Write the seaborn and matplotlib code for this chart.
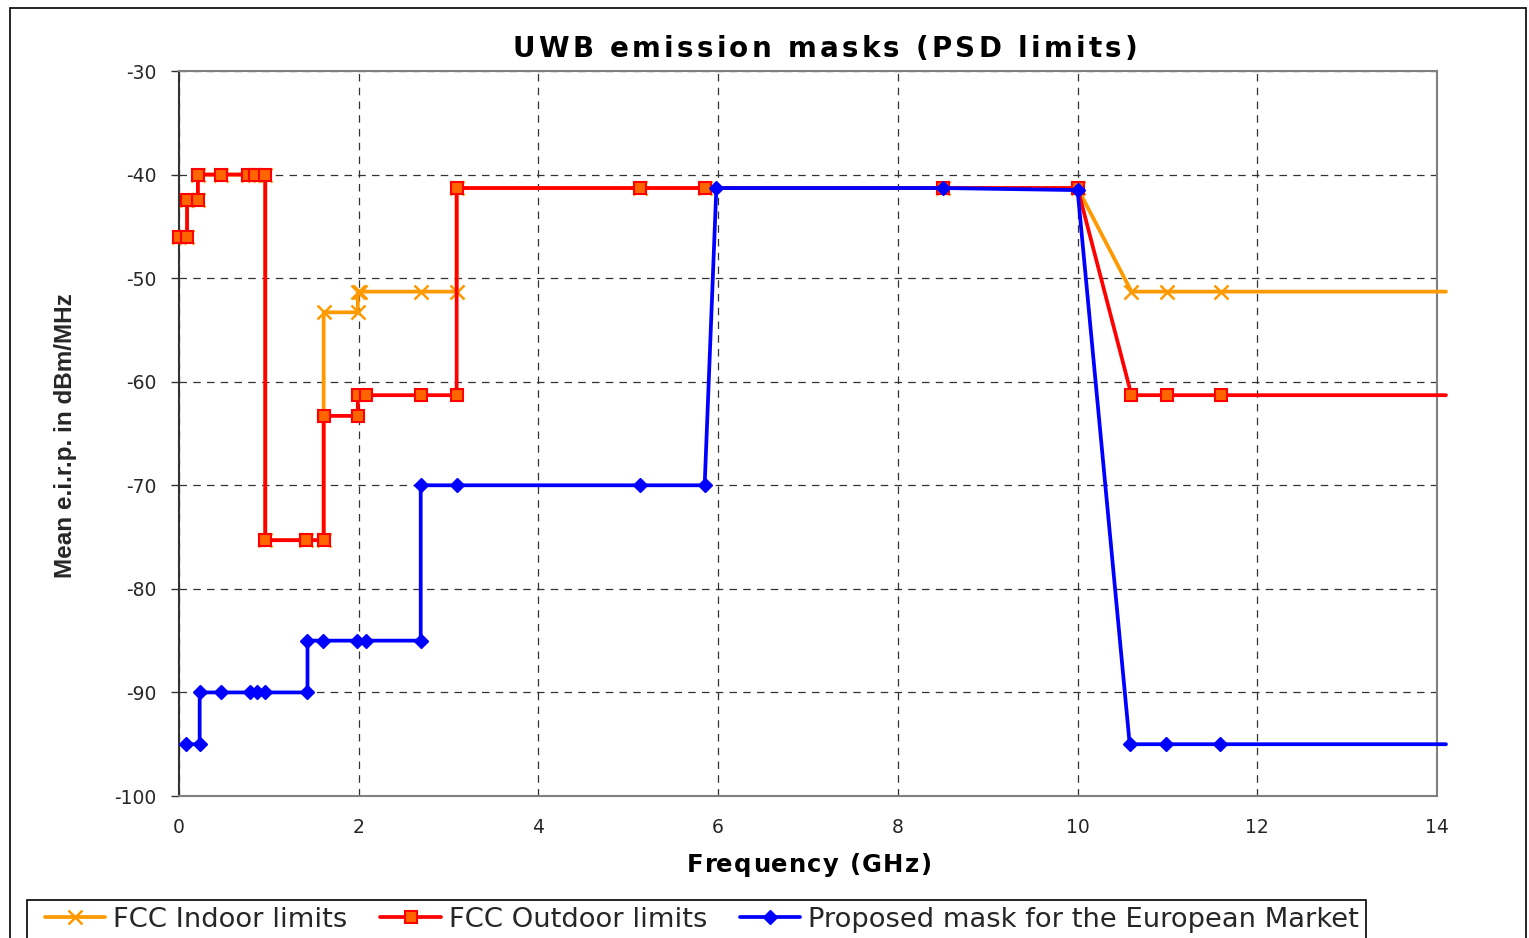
import matplotlib
matplotlib.use("Agg")
import matplotlib.pyplot as plt
from matplotlib.lines import Line2D
from matplotlib.patches import Rectangle
from matplotlib.font_manager import FontProperties
import seaborn as sns
import pandas as pd

# --- data (frequency in GHz, PSD limit in dBm/MHz) ---
indoor_f = [0.0, 0.09, 0.09, 0.21, 0.21, 0.47, 0.77, 0.85, 0.96, 0.96, 1.41, 1.61, 1.61, 1.99, 1.99,
            2.01, 2.69, 3.09, 3.09, 5.13, 5.85, 8.5, 10.0, 10.6, 11.0, 11.6, 14.1]
indoor_v = [-46.0, -46.0, -42.5, -42.5, -40.0, -40.0, -40.0, -40.0, -40.0, -75.3, -75.3, -75.3, -53.3, -53.3, -51.3,
            -51.3, -51.3, -51.3, -41.3, -41.3, -41.3, -41.3, -41.3, -51.3, -51.3, -51.3, -51.3]

outdoor_f = [0.0, 0.09, 0.09, 0.21, 0.21, 0.47, 0.77, 0.85, 0.96, 0.96, 1.41, 1.61, 1.61, 1.99, 1.99,
             2.08, 2.69, 3.09, 3.09, 5.13, 5.85, 8.5, 10.0, 10.6, 11.0, 11.6, 14.1]
outdoor_v = [-46.0, -46.0, -42.5, -42.5, -40.0, -40.0, -40.0, -40.0, -40.0, -75.3, -75.3, -75.3, -63.3, -63.3, -61.3,
             -61.3, -61.3, -61.3, -41.3, -41.3, -41.3, -41.3, -41.3, -61.3, -61.3, -61.3, -61.3]

euro_f = [0.08, 0.23, 0.23, 0.47, 0.79, 0.87, 0.96, 1.43, 1.43, 1.60, 1.98, 2.08, 2.69, 2.69, 3.09,
          5.13, 5.85, 5.98, 8.5, 10.0, 10.58, 10.98, 11.59, 14.1]
euro_v = [-95.0, -95.0, -90.0, -90.0, -90.0, -90.0, -90.0, -90.0, -85.0, -85.0, -85.0, -85.0, -85.0, -70.0, -70.0,
          -70.0, -70.0, -41.3, -41.3, -41.5, -95.0, -95.0, -95.0, -95.0]

series_names = ["FCC Indoor limits", "FCC Outdoor limits", "Proposed mask for the European Market"]
x_ticks = [0, 2, 4, 6, 8, 10, 12, 14]
y_ticks = [-100, -90, -80, -70, -60, -50, -40, -30]

sns.set_theme(style="white")
plt.rcParams["font.family"] = ["DejaVu Sans"]

W, H = 1529, 938
fig = plt.figure(figsize=(W / 100, H / 100), dpi=100)
ax = fig.add_axes([179 / W, 1 - 796 / H, (1437 - 179) / W, (796 - 71) / H])

styles = [
    dict(color="#FF9900", marker="x", mfc="#FF9900", mec="#FF9900", ms=9.5, mew=1.8),
    dict(color="#FF0000", marker="s", mfc="#FF6600", mec="#FF0000", ms=8.5, mew=1.5),
    dict(color="#0000FF", marker="D", mfc="#0000FF", mec="#0000FF", ms=7.5, mew=1.0),
]
data = [(indoor_f, indoor_v), (outdoor_f, outdoor_v), (euro_f, euro_v)]

for (f, v), name, st in zip(data, series_names, styles):
    df = pd.DataFrame({"f": f, "v": v})
    # the trailing point only carries the line past the last marker
    sns.lineplot(data=df, x="f", y="v", sort=False, estimator=None, ax=ax,
                 color=st["color"], lw=2.7, clip_on=False, legend=False, zorder=3)
    ax.plot(df["f"][:-1], df["v"][:-1], ls="none", marker=st["marker"], mfc=st["mfc"],
            mec=st["mec"], ms=st["ms"], mew=st["mew"], zorder=3, clip_on=False)

ax.set_xlim(0, 14)
ax.set_ylim(-100, -30)
ax.set_xticks(x_ticks)
ax.set_yticks(y_ticks)
ax.set_xticklabels([str(t) for t in x_ticks], fontsize=13.5)
ax.set_yticklabels([str(t) for t in y_ticks], fontsize=13.5)
ax.tick_params(axis="y", left=True, length=6, width=1, color="#333333", pad=10)
ax.tick_params(axis="x", bottom=False, pad=10)
ax.grid(True, color="#333333", lw=0.9, linestyle=(0, (6, 5)))
ax.set_axisbelow(True)

for side in ["top", "right", "bottom"]:
    ax.spines[side].set_color("#808080")
    ax.spines[side].set_linewidth(1.5)
ax.spines["left"].set_color("#333333")
ax.spines["left"].set_linewidth(1.5)
ax.set_xlabel("")
ax.set_ylabel("")


def spaced_text(cx, baseline, s, width, fp):
    """Draw s centred at cx (pixels) on the given baseline, letter-spaced to span width pixels."""
    r = fig.canvas.get_renderer()

    def adv(t):
        a = r.get_text_width_height_descent("|" + t + "|", fp, ismath=False)[0]
        b = r.get_text_width_height_descent("||", fp, ismath=False)[0]
        return a - b

    track = (width - adv(s)) / (len(s) - 1)
    x0 = cx - width / 2
    for i, ch in enumerate(s):
        if ch == " ":
            continue
        fig.text((x0 + adv(s[:i]) + i * track) / W, 1 - baseline / H, ch,
                 fontproperties=fp, ha="left", va="baseline", color="black")


title_fp = FontProperties(family="DejaVu Sans", weight="bold", size=20)
xlabel_fp = FontProperties(family="DejaVu Sans", weight="bold", size=17.5)
spaced_text(825, 57, "UWB emission masks (PSD limits)", 625, title_fp)
spaced_text(809, 872, "Frequency (GHz)", 244, xlabel_fp)

fig.text(66 / W, 1 - 436 / H, "Mean e.i.r.p. in dBm/MHz", ha="center", va="center",
         rotation=90, fontsize=17.5, fontweight="bold", family="Liberation Sans")

# outer chart frame
fig.patches.append(Rectangle((10 / W, -0.1), (1526 - 10) / W, 1.1 - 8 / H,
                             transform=fig.transFigure, fill=False, ec="black", lw=1.2))
# legend box
fig.patches.append(Rectangle((27 / W, -0.1), (1366 - 27) / W, 0.1 + 1 - 900 / H,
                             transform=fig.transFigure, fill=False, ec="black", lw=1.2))

handles = [Line2D([0], [0], color=st["color"], lw=2.7, marker=st["marker"], mfc=st["mfc"],
                  mec=st["mec"], ms=st["ms"], mew=st["mew"]) for st in styles]
leg = fig.legend(handles, series_names, loc="center left", bbox_to_anchor=(45 / W, 1 - 920 / H),
                 ncol=3, fontsize=19.7, frameon=False, handlelength=2.2,
                 handletextpad=0.3, columnspacing=1.2, borderpad=0, borderaxespad=0)

fig.savefig("out.png", dpi=100)
